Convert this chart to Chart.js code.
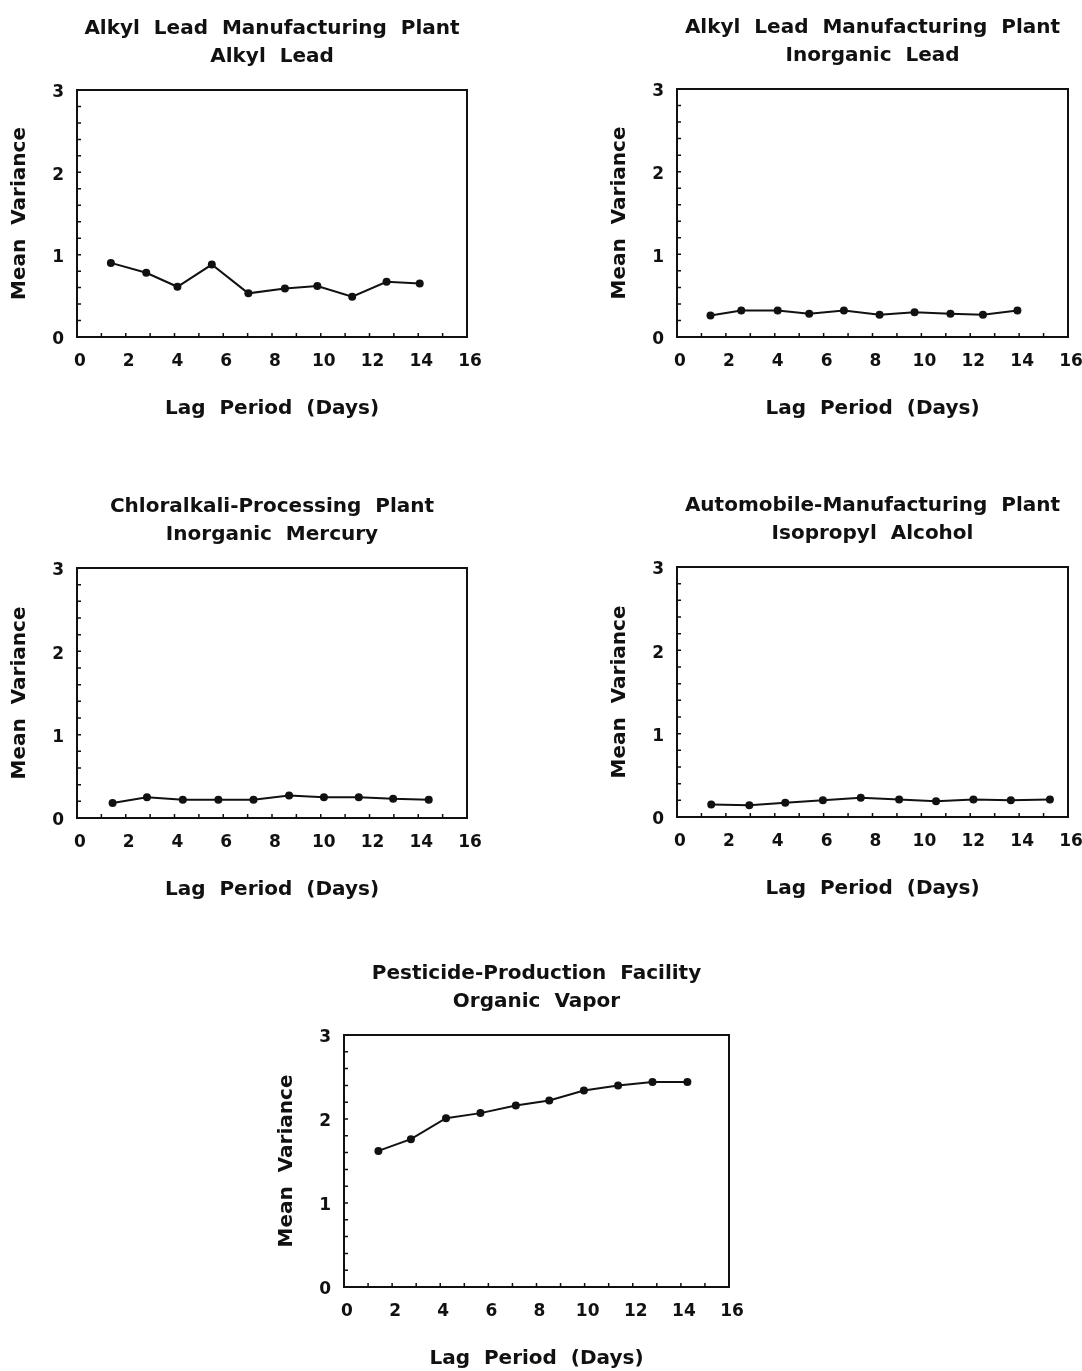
<!DOCTYPE html>
<html>
<head>
<meta charset="utf-8">
<script src="https://cdn.jsdelivr.net/npm/chart.js@4/dist/chart.umd.min.js"></script>
<style>
  body { margin: 0; background: #fff; width: 1082px; height: 1371px; position: relative; overflow: hidden; }
  canvas { position: absolute; }
</style>
</head>
<body>
<canvas id="c1"></canvas>
<canvas id="c2"></canvas>
<canvas id="c3"></canvas>
<canvas id="c4"></canvas>
<canvas id="c5"></canvas>
<script>
// lag periods (days) and mean variance
const lagAlkyl = [1.39, 2.84, 4.12, 5.53, 7.03, 8.53, 9.86, 11.29, 12.70, 14.06];
const varAlkyl = [0.90, 0.78, 0.61, 0.88, 0.53, 0.59, 0.62, 0.49, 0.67, 0.65];

const lagInorgLead = [1.37, 2.63, 4.12, 5.41, 6.83, 8.29, 9.72, 11.19, 12.52, 13.93];
const varInorgLead = [0.26, 0.32, 0.32, 0.28, 0.32, 0.27, 0.30, 0.28, 0.27, 0.32];

const lagMercury = [1.46, 2.87, 4.34, 5.80, 7.24, 8.70, 10.13, 11.56, 12.97, 14.43];
const varMercury = [0.18, 0.25, 0.22, 0.22, 0.22, 0.27, 0.25, 0.25, 0.23, 0.22];

const lagIpa = [1.40, 2.96, 4.43, 5.97, 7.52, 9.09, 10.60, 12.13, 13.66, 15.26];
const varIpa = [0.15, 0.14, 0.17, 0.20, 0.23, 0.21, 0.19, 0.21, 0.20, 0.21];

const lagVapor = [1.43, 2.78, 4.24, 5.67, 7.14, 8.53, 9.97, 11.39, 12.82, 14.27];
const varVapor = [1.62, 1.76, 2.01, 2.07, 2.16, 2.22, 2.34, 2.40, 2.44, 2.44];

const xTickValues = [0, 2, 4, 6, 8, 10, 12, 14, 16];
const yTickValues = [0, 1, 2, 3];

const xTitle = 'Lag  Period  (Days)';
const yTitle = 'Mean  Variance';

const FONT = '"DejaVu Sans", sans-serif';
const INK = '#111';

// frame around plot + small inward ticks (x every 1, y every 0.2)
const framePlugin = {
  id: 'frame',
  afterDatasetsDraw(chart) {
    const {ctx, chartArea: a, scales: {x, y}} = chart;
    ctx.save();
    ctx.strokeStyle = INK;
    ctx.lineWidth = 2;
    ctx.strokeRect(a.left, a.top, a.right - a.left, a.bottom - a.top);
    ctx.lineWidth = 1.5;
    ctx.beginPath();
    for (let v = 1; v < 16; v++) {
      const px = x.getPixelForValue(v);
      ctx.moveTo(px, a.bottom);
      ctx.lineTo(px, a.bottom - 4);
    }
    for (let i = 1; i < 15; i++) {
      const py = y.getPixelForValue(i * 0.2);
      ctx.moveTo(a.left, py);
      ctx.lineTo(a.left + 4, py);
    }
    ctx.stroke();
    ctx.restore();
  }
};

function makePanel(id, plotLeft, plotTop, plotW, plotH, titleLines, xs, ys) {
  const canvas = document.getElementById(id);
  const w = 77 + plotW + 14;
  const h = 90 + plotH + 103;
  canvas.width = w;
  canvas.height = h;
  canvas.style.left = (plotLeft - 77) + 'px';
  canvas.style.top = (plotTop - 90) + 'px';

  new Chart(canvas, {
    type: 'scatter',
    data: {
      datasets: [{
        data: xs.map((v, i) => ({x: v, y: ys[i]})),
        showLine: true,
        borderColor: INK,
        backgroundColor: INK,
        borderWidth: 2,
        pointRadius: 4,
        pointBorderWidth: 0,
        tension: 0
      }]
    },
    options: {
      responsive: false,
      animation: false,
      layout: {padding: {left: 0, right: 14, top: 0, bottom: 0}},
      plugins: {
        legend: {display: false},
        tooltip: {enabled: false},
        title: {
          display: true,
          fullSize: false,
          text: titleLines,
          color: INK,
          font: {family: FONT, size: 20, weight: 'bold', lineHeight: '28px'},
          padding: {top: 15, bottom: 19}
        }
      },
      scales: {
        x: {
          type: 'linear',
          min: 0,
          max: 16,
          afterBuildTicks: s => { s.ticks = xTickValues.map(v => ({value: v})); },
          afterFit: s => { s.height = 103; s.paddingLeft = 0; s.paddingRight = 0; },
          grid: {display: false, drawTicks: false},
          border: {display: false},
          ticks: {color: INK, padding: 14, labelOffset: 3, font: {family: FONT, size: 17, weight: 'bold'}},
          title: {
            display: true,
            text: xTitle,
            color: INK,
            font: {family: FONT, size: 20, weight: 'bold', lineHeight: '22px'},
            padding: {top: 0, bottom: 20}
          }
        },
        y: {
          type: 'linear',
          min: 0,
          max: 3,
          afterBuildTicks: s => { s.ticks = yTickValues.map(v => ({value: v})); },
          afterFit: s => { s.width = 77; s.paddingTop = 0; s.paddingBottom = 0; },
          grid: {display: false, drawTicks: false},
          border: {display: false},
          ticks: {color: INK, padding: 13, labelOffset: 3, font: {family: FONT, size: 17, weight: 'bold'}},
          title: {
            display: true,
            text: yTitle,
            color: INK,
            font: {family: FONT, size: 20, weight: 'bold', lineHeight: '22px'},
            padding: {top: 9, bottom: 0}
          }
        }
      }
    },
    plugins: [framePlugin]
  });
}

makePanel('c1', 77, 90, 390, 247, ['Alkyl  Lead  Manufacturing  Plant', 'Alkyl  Lead'], lagAlkyl, varAlkyl);
makePanel('c2', 677, 89, 391, 248, ['Alkyl  Lead  Manufacturing  Plant', 'Inorganic  Lead'], lagInorgLead, varInorgLead);
makePanel('c3', 77, 568, 390, 250, ['Chloralkali-Processing  Plant', 'Inorganic  Mercury'], lagMercury, varMercury);
makePanel('c4', 677, 567, 391, 250, ['Automobile-Manufacturing  Plant', 'Isopropyl  Alcohol'], lagIpa, varIpa);
makePanel('c5', 344, 1035, 385, 252, ['Pesticide-Production  Facility', 'Organic  Vapor'], lagVapor, varVapor);
</script>
</body>
</html>
